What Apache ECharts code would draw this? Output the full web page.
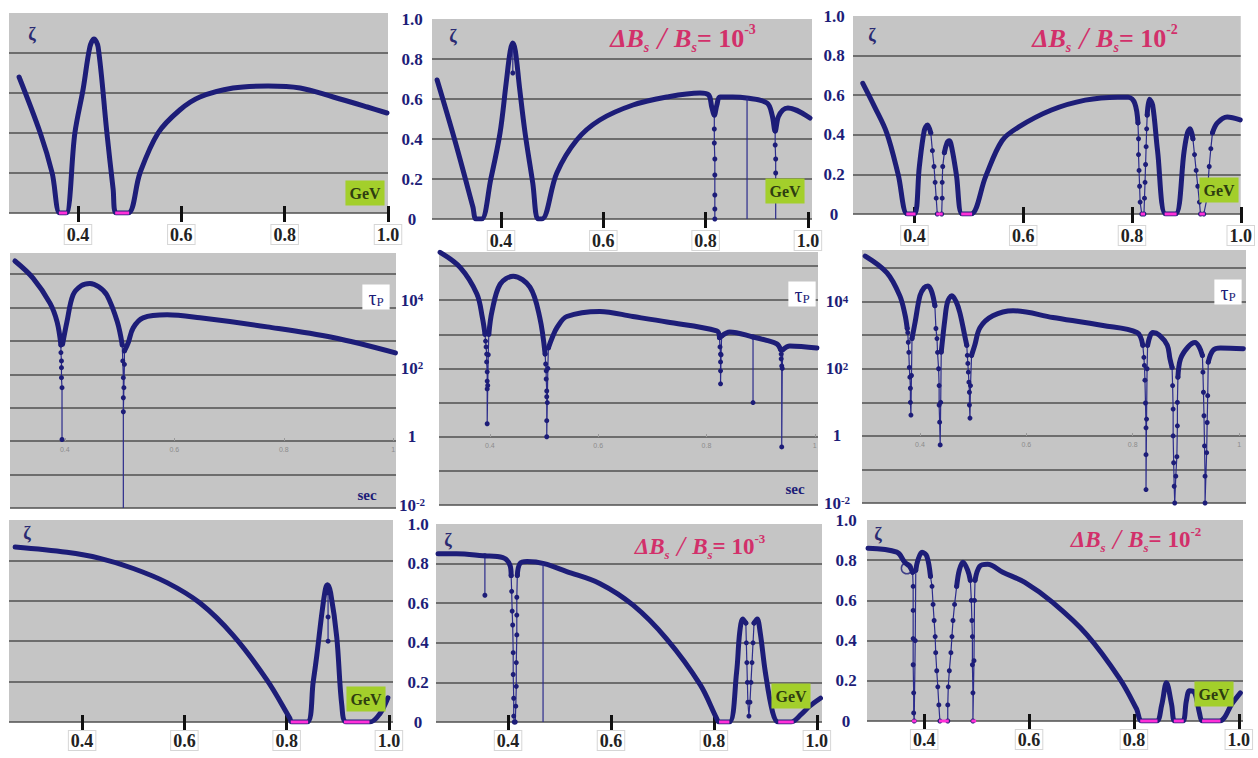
<!DOCTYPE html>
<html><head><meta charset="utf-8">
<script src="https://cdn.jsdelivr.net/npm/echarts@6/dist/echarts.min.js"></script>
<style>html,body{margin:0;padding:0;background:#fff}#c{width:1258px;height:758px}</style>
</head><body><div id="c"></div>
<script>
// ---------------- DATA (x in GeV; ζ values; τp panels store log10(τp)) ----------------
const zTicks = [0.4, 0.6, 0.8, 1.0];
const tTicks = [0.4, 0.6, 0.8, 1];
const tauLabels = {'4':'{b|10}{u|4}','2':'{b|10}{u|2}','0':'{b|1}','-2':'{b|10}{u|-2}'};

// Panel A : ζ, no field error
const A_curve = [[[0.286,0.68],[0.327,0.40],[0.35,0.20],[0.365,0.0],[0.377,0.0],[0.394,0.40],[0.41,0.62],[0.423,0.83],[0.431,0.87],[0.439,0.83],[0.456,0.40],[0.468,0.12],[0.474,0.0],[0.497,0.0],[0.52,0.2],[0.555,0.4],[0.597,0.515],[0.636,0.58],[0.70,0.625],[0.768,0.635],[0.83,0.625],[0.894,0.58],[0.96,0.53],[0.998,0.50]]];
const A_dips = [];
const A_lines = [];
const A_zero = [[0.363,0.379],[0.472,0.499]];

// Panel B : ζ, ΔBs/Bs = 1e-3
const B_curve = [[[0.275,0.695],[0.31,0.39],[0.345,0.06],[0.351,0.0],[0.362,0.0],[0.38,0.2],[0.398,0.43],[0.41,0.68],[0.418,0.84],[0.423,0.88],[0.428,0.84],[0.436,0.66],[0.447,0.43],[0.462,0.18],[0.472,0.0],[0.48,0.0],[0.509,0.23],[0.548,0.395],[0.593,0.495],[0.658,0.57],[0.724,0.61],[0.789,0.63],[0.806,0.62],[0.812,0.56],[0.817,0.52],[0.822,0.57],[0.828,0.61],[0.853,0.61],[0.88,0.605],[0.92,0.58],[0.93,0.52],[0.936,0.44],[0.942,0.51],[0.951,0.545],[0.961,0.555],[1.004,0.505]]];
const B_dips = [[[0.423,0.86],[0.423,0.73]],[[0.817,0.52],[0.817,0.45],[0.817,0.38],[0.818,0.30],[0.818,0.22],[0.818,0.12],[0.818,0.05],[0.818,0.0]],[[0.936,0.44],[0.936,0.37],[0.937,0.30],[0.937,0.23]]];
const B_lines = [[[0.881,0.605],[0.881,0.0]],[[0.937,0.23],[0.937,0.0]]];
const B_zero = [];

// Panel C : ζ, ΔBs/Bs = 1e-2
const C_curve = [
 [[0.305,0.66],[0.327,0.54],[0.349,0.41],[0.37,0.2],[0.387,0.0],[0.40,0.0],[0.409,0.24],[0.418,0.42],[0.424,0.45],[0.430,0.41]],
 [[0.455,0.31],[0.460,0.36],[0.464,0.37],[0.469,0.33],[0.477,0.2],[0.488,0.0],[0.504,0.0],[0.531,0.19],[0.561,0.37],[0.592,0.44],[0.652,0.525],[0.714,0.575],[0.774,0.59],[0.793,0.59],[0.805,0.56],[0.811,0.46]],
 [[0.828,0.50],[0.832,0.58],[0.838,0.55],[0.847,0.32],[0.862,0.0],[0.88,0.0],[0.896,0.32],[0.902,0.41],[0.907,0.43],[0.912,0.38]],
 [[0.948,0.41],[0.957,0.46],[0.975,0.49],[0.999,0.475]]];
const C_dips = [
 [[0.430,0.41],[0.433,0.32],[0.436,0.24],[0.438,0.16],[0.440,0.08],[0.442,0.0]],
 [[0.450,0.0],[0.451,0.08],[0.451,0.16],[0.452,0.24],[0.455,0.31]],
 [[0.811,0.46],[0.812,0.38],[0.812,0.30],[0.813,0.22],[0.814,0.14],[0.815,0.06],[0.818,0.0]],
 [[0.822,0.0],[0.823,0.08],[0.824,0.16],[0.825,0.25],[0.826,0.34],[0.827,0.43],[0.828,0.50]],
 [[0.912,0.38],[0.915,0.30],[0.918,0.22],[0.921,0.14],[0.924,0.06],[0.926,0.0]],
 [[0.932,0.0],[0.938,0.08],[0.940,0.16],[0.942,0.24],[0.945,0.33],[0.948,0.41]]];
const C_lines = [];
const C_zero = [[0.385,0.402],[0.44,0.452],[0.486,0.506],[0.816,0.824],[0.86,0.882],[0.924,0.934]];

// Panel D : log10 τp, no field error
const D_curve = [
 [[0.309,5.39],[0.342,4.88],[0.373,4.13],[0.386,3.57],[0.393,2.88]],
 [[0.396,2.9],[0.404,3.57],[0.415,4.37],[0.430,4.65],[0.446,4.72],[0.462,4.62],[0.477,4.37],[0.496,3.57],[0.505,2.88]],
 [[0.509,2.7],[0.516,2.95],[0.525,3.39],[0.543,3.69],[0.587,3.78],[0.647,3.69],[0.77,3.42],[0.89,3.1],[1.004,2.64]]];
const D_dips = [
 [[0.393,2.88],[0.393,2.65],[0.394,2.4],[0.394,2.2],[0.394,1.9],[0.395,1.6],[0.395,0.05]],
 [[0.505,2.88],[0.506,2.4],[0.507,1.9],[0.507,1.3],[0.507,0.88],[0.508,1.6],[0.509,2.3],[0.509,2.7]]];
const D_lines = [[[0.507,0.88],[0.507,-2.0]]];
const D_zero = [];

// Panel E : log10 τp, ΔBs/Bs = 1e-3
const E_curve = [
 [[0.308,5.4],[0.345,4.96],[0.376,4.18],[0.386,3.5],[0.391,3.0]],
 [[0.398,3.0],[0.404,3.68],[0.419,4.47],[0.443,4.7],[0.474,4.38],[0.492,3.5],[0.502,2.42]],
 [[0.508,2.6],[0.515,2.9],[0.524,3.2],[0.542,3.52],[0.603,3.67],[0.664,3.52],[0.727,3.36],[0.819,3.1],[0.824,2.9]],
 [[0.828,2.95],[0.843,3.07],[0.886,2.92],[0.911,2.82],[0.930,2.72],[0.937,2.55]],
 [[0.941,2.55],[0.954,2.66],[1.004,2.6]]];
const E_dips = [
 [[0.391,3.0],[0.392,2.8],[0.393,2.63],[0.394,2.42],[0.394,2.19],[0.395,1.9],[0.395,1.63],[0.395,1.4],[0.395,0.38],[0.396,1.5],[0.397,2.4],[0.398,3.0]],
 [[0.502,2.42],[0.503,2.13],[0.504,1.93],[0.504,1.69],[0.505,1.34],[0.505,1.17],[0.505,0.47],[0.505,0.0],[0.506,1.0],[0.507,2.0],[0.508,2.6]],
 [[0.824,2.9],[0.825,2.63],[0.826,2.42],[0.826,2.19],[0.826,1.93],[0.826,1.55],[0.827,2.4],[0.828,2.95]],
 [[0.937,2.55],[0.938,2.42],[0.938,2.28],[0.939,2.07],[0.939,-0.3],[0.940,2.0],[0.941,2.55]],
 [[0.886,2.92],[0.886,1.0]]];
const E_lines = [];
const E_zero = [];

// Panel F : log10 τp, ΔBs/Bs = 1e-2
const F_curve = [
 [[0.297,5.36],[0.338,4.86],[0.362,4.18],[0.372,3.6],[0.376,3.2]],
 [[0.385,2.9],[0.391,3.4],[0.400,4.18],[0.408,4.42],[0.415,4.47],[0.422,4.3],[0.428,3.88]],
 [[0.440,2.5],[0.447,3.5],[0.452,4.0],[0.460,4.18],[0.468,4.0],[0.475,3.67],[0.484,3.0],[0.488,2.7]],
 [[0.497,2.4],[0.503,2.7],[0.513,3.23],[0.537,3.58],[0.575,3.73],[0.650,3.53],[0.744,3.29],[0.808,3.08],[0.819,2.7]],
 [[0.828,2.7],[0.833,2.99],[0.838,3.08],[0.850,3.0],[0.865,2.7],[0.870,2.3],[0.874,2.04]],
 [[0.885,1.75],[0.890,2.3],[0.904,2.65],[0.917,2.78],[0.925,2.65],[0.931,2.4]],
 [[0.942,2.2],[0.951,2.55],[0.965,2.62],[1.008,2.6]]];
const F_dips = [
 [[0.376,3.2],[0.377,3.08],[0.378,2.79],[0.379,2.49],[0.380,2.04],[0.381,1.75],[0.382,1.42],[0.382,1.0],[0.383,0.62],[0.384,1.8],[0.385,2.9]],
 [[0.428,3.88],[0.430,3.2],[0.432,2.9],[0.433,2.49],[0.435,2.0],[0.436,1.5],[0.436,0.92],[0.437,0.41],[0.438,-0.27],[0.439,1.0],[0.440,2.5]],
 [[0.488,2.7],[0.489,2.4],[0.490,2.16],[0.491,1.9],[0.492,1.6],[0.493,1.3],[0.493,0.92],[0.494,0.53],[0.495,1.5],[0.497,2.4]],
 [[0.819,2.7],[0.821,2.34],[0.822,2.1],[0.823,1.66],[0.824,0.98],[0.825,0.24],[0.825,-0.56],[0.825,-1.6],[0.826,0.5],[0.827,2.0],[0.828,2.7]],
 [[0.874,2.04],[0.875,1.5],[0.876,0.8],[0.876,0.0],[0.877,-0.8],[0.878,-1.5],[0.879,-2.0],[0.881,-1.2],[0.883,-0.62],[0.884,0.3],[0.884,1.0],[0.885,1.75]],
 [[0.931,2.4],[0.932,1.9],[0.933,1.3],[0.934,0.6],[0.935,-0.3],[0.936,-1.2],[0.936,-2.0],[0.939,-0.5],[0.940,0.4],[0.941,1.2],[0.942,2.2]]];
const F_lines = [];
const F_zero = [];

// Panel G : ζ, no field error (second case)
const G_curve = [[[0.269,0.866],[0.37,0.84],[0.435,0.81],[0.5,0.76],[0.566,0.69],[0.63,0.59],[0.695,0.43],[0.761,0.21],[0.806,0.02],[0.81,0.0],[0.84,0.0],[0.852,0.2],[0.859,0.33],[0.869,0.54],[0.876,0.66],[0.88,0.68],[0.886,0.64],[0.898,0.42],[0.908,0.08],[0.917,0.0],[0.963,0.0],[0.982,0.04],[0.998,0.12]]];
const G_dips = [[[0.881,0.64],[0.881,0.52],[0.881,0.40]]];
const G_lines = [];
const G_zero = [[0.808,0.842],[0.912,0.962]];

// Panel H : ζ, ΔBs/Bs = 1e-3
const H_curve = [
 [[0.264,0.85],[0.30,0.85],[0.351,0.84],[0.39,0.83],[0.404,0.79],[0.406,0.74]],
 [[0.418,0.74],[0.423,0.80],[0.437,0.81],[0.47,0.80],[0.514,0.76],[0.578,0.70],[0.643,0.59],[0.708,0.42],[0.773,0.19],[0.805,0.02],[0.81,0.0],[0.83,0.0],[0.844,0.25],[0.85,0.45],[0.856,0.52],[0.862,0.50]],
 [[0.878,0.50],[0.884,0.52],[0.89,0.45],[0.90,0.25],[0.914,0.05],[0.925,0.0],[0.95,0.0],[0.97,0.04],[0.986,0.08],[1.007,0.12]]];
const H_dips = [
 [[0.406,0.74],[0.407,0.66],[0.408,0.56],[0.409,0.49],[0.41,0.35],[0.41,0.24],[0.411,0.12],[0.411,0.03],[0.412,0.0]],
 [[0.414,0.0],[0.415,0.08],[0.416,0.18],[0.416,0.3],[0.417,0.44],[0.417,0.54],[0.417,0.63],[0.418,0.74]],
 [[0.862,0.50],[0.863,0.4],[0.864,0.3],[0.865,0.2],[0.866,0.1],[0.868,0.03],[0.870,0.1],[0.872,0.2],[0.874,0.3],[0.876,0.4],[0.878,0.5]],
 [[0.355,0.84],[0.355,0.64]]];
const H_lines = [[[0.468,0.80],[0.468,0.0]]];
const H_zero = [[0.81,0.83],[0.925,0.955]];

// Panel I : ζ, ΔBs/Bs = 1e-2
const I_curve = [
 [[0.293,0.86],[0.348,0.84],[0.363,0.79],[0.372,0.77],[0.378,0.74]],
 [[0.384,0.75],[0.388,0.80],[0.396,0.84],[0.405,0.82],[0.412,0.72]],
 [[0.462,0.67],[0.467,0.75],[0.474,0.79],[0.483,0.75],[0.488,0.70]],
 [[0.497,0.70],[0.506,0.77],[0.521,0.78],[0.55,0.74],[0.592,0.69],[0.645,0.59],[0.71,0.43],[0.773,0.21],[0.805,0.06],[0.815,0.0],[0.843,0.0],[0.853,0.08],[0.862,0.19],[0.872,0.08],[0.878,0.0],[0.893,0.0],[0.900,0.1],[0.906,0.15],[0.916,0.14],[0.925,0.04],[0.931,0.0],[0.963,0.0],[0.988,0.09],[1.003,0.14]]];
const I_dips = [
 [[0.378,0.74],[0.379,0.67],[0.379,0.55],[0.379,0.41],[0.379,0.28],[0.380,0.14],[0.380,0.04],[0.381,0.0],[0.383,0.4],[0.384,0.75]],
 [[0.412,0.72],[0.415,0.67],[0.417,0.58],[0.419,0.5],[0.421,0.42],[0.422,0.34],[0.424,0.25],[0.426,0.17],[0.428,0.08],[0.43,0.0]],
 [[0.445,0.0],[0.445,0.08],[0.446,0.17],[0.448,0.25],[0.451,0.34],[0.453,0.42],[0.455,0.5],[0.458,0.58],[0.462,0.67]],
 [[0.488,0.70],[0.490,0.6],[0.491,0.5],[0.492,0.42],[0.492,0.28],[0.493,0.14],[0.493,0.0],[0.495,0.3],[0.496,0.6],[0.497,0.70]]];
const I_lines = [];
const I_zero = [[0.377,0.385],[0.428,0.447],[0.490,0.499],[0.812,0.845],[0.876,0.895],[0.93,0.965]];
const I_ring = [[0.367,0.76]];

// ---------------- LAYOUT & STYLE ----------------
const SERIF = '"Liberation Serif","DejaVu Serif",serif';
const NAVY = '#1d1d78', GRIDC = '#4f4f4f', BG = '#c5c5c5', MAG = '#ff30d8', PINK = '#d2306a';
const panels = [
 {d:{curve:A_curve,dips:A_dips,lines:A_lines,zero:A_zero}, kind:'z', l:9,  t:13, w:379, h:200, x0:0.2665, x1:1.0,  yl:null, lm:12, lp:0},
 {d:{curve:B_curve,dips:B_dips,lines:B_lines,zero:B_zero}, kind:'z', l:432,t:19, w:380, h:200, x0:0.265, x1:1.008, yl:20, lm:12, lp:8},
 {d:{curve:C_curve,dips:C_dips,lines:C_lines,zero:C_zero}, kind:'z', l:853,t:16, w:391, h:198, x0:0.287, x1:1.0,   yl:19, lm:12, lp:8},
 {d:{curve:D_curve,dips:D_dips,lines:D_lines,zero:D_zero}, kind:'t', l:10, t:253,w:386, h:255, x0:0.30,  x1:1.005, y1:5.63, yl:null},
 {d:{curve:E_curve,dips:E_dips,lines:E_lines,zero:E_zero}, kind:'t', l:439,t:252,w:379, h:253, x0:0.306, x1:1.006, y1:5.41, yl:27},
 {d:{curve:F_curve,dips:F_dips,lines:F_lines,zero:F_zero}, kind:'t', l:862,t:250,w:384, h:253, x0:0.291, x1:1.013, y1:5.54, yl:25},
 {d:{curve:G_curve,dips:G_dips,lines:G_lines,zero:G_zero}, kind:'z', l:9,  t:520,w:384, h:202, x0:0.257, x1:1.008, yl:null, lm:9, lp:0},
 {d:{curve:H_curve,dips:H_dips,lines:H_lines,zero:H_zero}, kind:'z', l:436,t:524,w:386, h:198, x0:0.26,  x1:1.01,  yl:18, lm:9, lp:0},
 {d:{curve:I_curve,dips:I_dips,lines:I_lines,zero:I_zero,ring:I_ring}, kind:'z', l:867,t:520,w:376, h:201, x0:0.291, x1:1.008, yl:21, lm:9, lp:0}
];

const grid = [], xAxis = [], yAxis = [], series = [];
panels.forEach((p, i) => {
  grid.push({left:p.l, top:p.t, width:p.w, height:p.h, show:true, backgroundColor:BG, borderWidth:0});
  if (p.kind === 'z') {
    xAxis.push({type:'value', gridIndex:i, min:p.x0, max:p.x1, position:'bottom',
      axisLine:{show:false, onZero:false}, splitLine:{show:false},
      axisTick:{show:true, customValues:zTicks, length:9, lineStyle:{color:'#111', width:3}},
      axisLabel:{show:true, customValues:zTicks, formatter:v=>v.toFixed(1), margin:p.lm,
        fontFamily:SERIF, fontWeight:'bold', fontSize:18, color:'#222',
        backgroundColor:'#fff', borderColor:'#d6d6d6', borderWidth:1, padding:[1,2,0,2]}});
    xAxis.push({type:'value', gridIndex:i, min:p.x0, max:p.x1, position:'bottom',
      axisLine:{show:false, onZero:false}, splitLine:{show:false}, axisLabel:{show:false},
      axisTick:{show:true, inside:true, customValues:zTicks, length:7, lineStyle:{color:'#111', width:3}}});
    yAxis.push({type:'value', gridIndex:i, min:0, max:1, interval:0.2,
      axisLine:{show:false}, axisTick:{show:false},
      splitLine:{show:true, showMaxLine:false, lineStyle:{color:GRIDC, width:1.5}},
      axisLabel: p.yl == null ? {show:false} : {show:true, margin:p.yl, align:'center',
        formatter:v => v === 0 ? '0' : v.toFixed(1), fontFamily:SERIF, fontWeight:'bold',
        fontSize:17, color:NAVY, padding:[p.lp,0,0,0]}});
  } else {
    // x axis drawn across the τp = 1 line (two decades above the bottom)
    const off = -Math.round(2 / (p.y1 + 2) * p.h);
    xAxis.push({type:'value', gridIndex:i, min:p.x0, max:p.x1, position:'bottom', offset:off,
      axisLine:{show:false, onZero:false}, splitLine:{show:false},
      axisTick:{show:true, inside:true, customValues:tTicks, length:3, lineStyle:{color:'#9a9a9a'}},
      axisLabel:{show:true, customValues:tTicks, formatter:v => v === 1 ? '1' : v.toFixed(1),
        fontSize:7, color:'#8c8c8c', margin:5}});
    xAxis.push({type:'value', gridIndex:i, min:p.x0, max:p.x1, show:false, axisLine:{onZero:false}});
    yAxis.push({type:'value', gridIndex:i, min:-2, max:p.y1, interval:1,
      axisLine:{show:false}, axisTick:{show:false},
      splitLine:{show:true, showMaxLine:false, lineStyle:{color:GRIDC, width:1.5}},
      axisLabel: p.yl == null ? {show:false} : {show:true, margin:p.yl, align:'center',
        formatter:v => tauLabels[String(v)] || '',
        rich:{b:{fontFamily:SERIF, fontWeight:'bold', fontSize:17, color:NAVY},
              u:{fontFamily:SERIF, fontWeight:'bold', fontSize:11, color:NAVY, verticalAlign:'top'}}}});
  }
  const xi = 2*i, yi = i;
  p.d.curve.forEach(seg => series.push({type:'line', xAxisIndex:xi, yAxisIndex:yi, data:seg,
    smooth:0.35, symbol:'none', silent:true, z:2,
    lineStyle:{color:NAVY, width:5, cap:'round', join:'round'}}));
  (p.d.dips||[]).forEach(seg => series.push({type:'line', xAxisIndex:xi, yAxisIndex:yi, data:seg,
    symbol:'circle', symbolSize:5, showSymbol:true, showAllSymbol:true, silent:true, z:3,
    itemStyle:{color:NAVY}, lineStyle:{color:'#2c2c8c', width:1.2}}));
  (p.d.lines||[]).forEach(seg => series.push({type:'line', xAxisIndex:xi, yAxisIndex:yi, data:seg,
    symbol:'none', silent:true, z:3, lineStyle:{color:'#2c2c8c', width:1.2}}));
  (p.d.zero||[]).forEach(s => series.push({type:'line', xAxisIndex:xi, yAxisIndex:yi,
    data:[[s[0],0],[s[1],0]], symbol:'none', silent:true, z:4, clip:false,
    lineStyle:{color:MAG, width:3}}));
  if (p.d.ring) series.push({type:'scatter', xAxisIndex:xi, yAxisIndex:yi, data:p.d.ring,
    symbol:'circle', symbolSize:11, silent:true, z:4,
    itemStyle:{color:'rgba(0,0,0,0)', borderColor:NAVY, borderWidth:1.5}});
});

// ---------------- TEXT DECORATIONS ----------------
function txt(x, y, text, style) {
  return {type:'text', x:x, y:y, z:100, silent:true,
    style:Object.assign({text:text, align:'center', verticalAlign:'middle'}, style)};
}
const zetaStyle = {fontFamily:SERIF, fontWeight:'bold', fontSize:18, fill:'#2a2a72'};
const gevStyle = {fontFamily:SERIF, fontWeight:'bold', fontSize:16, fill:'#2e3d10', backgroundColor:'#a3cf2b', padding:[5,4,4,4]};
const secStyle = {fontFamily:SERIF, fontWeight:'bold', fontSize:15, fill:NAVY};
function ratioRich(sz) {
  const s = Math.round(sz*0.55);
  return {
    a:{fontFamily:SERIF, fontWeight:'bold', fontStyle:'italic', fontSize:sz, fill:PINK},
    n:{fontFamily:SERIF, fontStyle:'italic', fontSize:sz+6, fill:PINK},
    s:{fontFamily:SERIF, fontWeight:'bold', fontStyle:'italic', fontSize:s, fill:PINK, verticalAlign:'bottom'},
    e:{fontFamily:SERIF, fontWeight:'bold', fontSize:sz, fill:PINK},
    p:{fontFamily:SERIF, fontWeight:'bold', fontSize:s, fill:PINK, verticalAlign:'top'}
  };
}
function ratio(x, y, exp, sz) {
  return txt(x, y, '{a|ΔB}{s|s}{n| / }{a|B}{s|s}{e|= 10}{p|' + exp + '}', {rich:ratioRich(sz)});
}
const tauRich = {t:{fontFamily:SERIF, fontSize:20, fill:NAVY}, s:{fontFamily:SERIF, fontSize:13, fill:NAVY, verticalAlign:'bottom'}};
function tau(x, y) {
  return txt(x, y, '{t|τ}{s|P}', {rich:tauRich, backgroundColor:'#fff', padding:[3,6,2,6]});
}

const graphic = [
  txt(32,34,'ζ',zetaStyle), txt(453,36,'ζ',zetaStyle), txt(872,35,'ζ',zetaStyle),
  txt(27,533,'ζ',zetaStyle), txt(448,540,'ζ',zetaStyle), txt(878,534,'ζ',zetaStyle),
  ratio(683,38,'-3',26), ratio(1105,38,'-2',26), ratio(700,546,'-3',23), ratio(1136,539,'-2',23),
  txt(365,193,'GeV',gevStyle), txt(785,191,'GeV',gevStyle), txt(1219,190,'GeV',gevStyle),
  txt(366,699,'GeV',gevStyle), txt(791,696,'GeV',gevStyle), txt(1214,694,'GeV',gevStyle),
  tau(376,297), tau(802,294), tau(1228,292),
  txt(367,495,'sec',secStyle), txt(795,489,'sec',secStyle)
];

const chart = echarts.init(document.getElementById('c'), null, {renderer:'svg'});
chart.setOption({animation:false, backgroundColor:'#fff', grid, xAxis, yAxis, series, graphic});
</script></body></html>
